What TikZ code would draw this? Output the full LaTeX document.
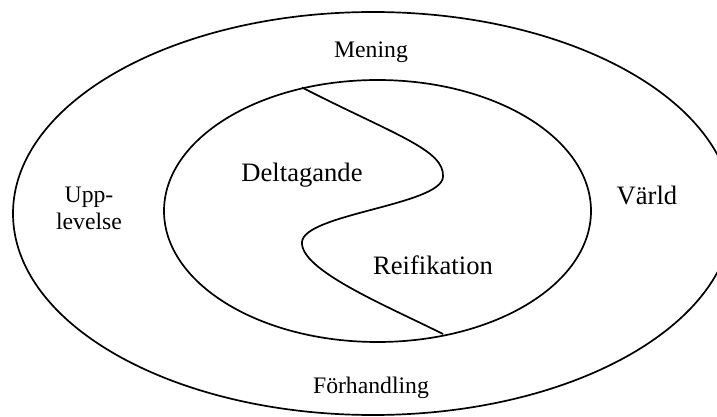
\documentclass[tikz,border=0pt]{standalone}
\usepackage{fontspec}
\setmainfont{Liberation Serif}
\usetikzlibrary{shapes.geometric, positioning}

\begin{document}
\begin{tikzpicture}[
    x=1pt, y=-1pt,
    ring/.style={ellipse, draw, line width=1.7pt, inner sep=0pt},
    lblsmall/.style={font=\fontsize{23.7}{27}\selectfont, inner sep=0pt, anchor=base},
    lblbig/.style={font=\fontsize{26.6}{30}\selectfont, inner sep=0pt, anchor=base},
    curve/.style={line width=1.7pt}
]
\useasboundingbox (0,0) rectangle (717,417);
\clip (0,0) rectangle (717,417);

\node[ring, minimum width=720pt, minimum height=403pt] (outer) at (373,213.5) {};
\node[ring, minimum width=427pt, minimum height=262pt] (inner) at (377.5,211) {};

\node[lblsmall] (mening) at (371,58) {Mening};
\node[lblsmall] (forhandling) at (371,393) {Förhandling};
\node[lblsmall, anchor=north, align=center] (upplevelse) at (89,187) {Upp-\\levelse};
\node[lblbig] (deltagande) at (302,181) {Deltagande};
\node[lblbig] (reifikation) at (433,274) {Reifikation};
\node[lblbig] (varld) at (647,204) {Värld};

\coordinate (stop) at (302,87.5);
\coordinate (sbot) at (443,334);
\draw[curve] (stop) .. controls (395,135) and (445,150) .. (443,177)
    .. controls (441,205) and (304,214) .. (302,242)
    .. controls (300,270) and (385,305) .. (sbot);

\end{tikzpicture}
\end{document}
